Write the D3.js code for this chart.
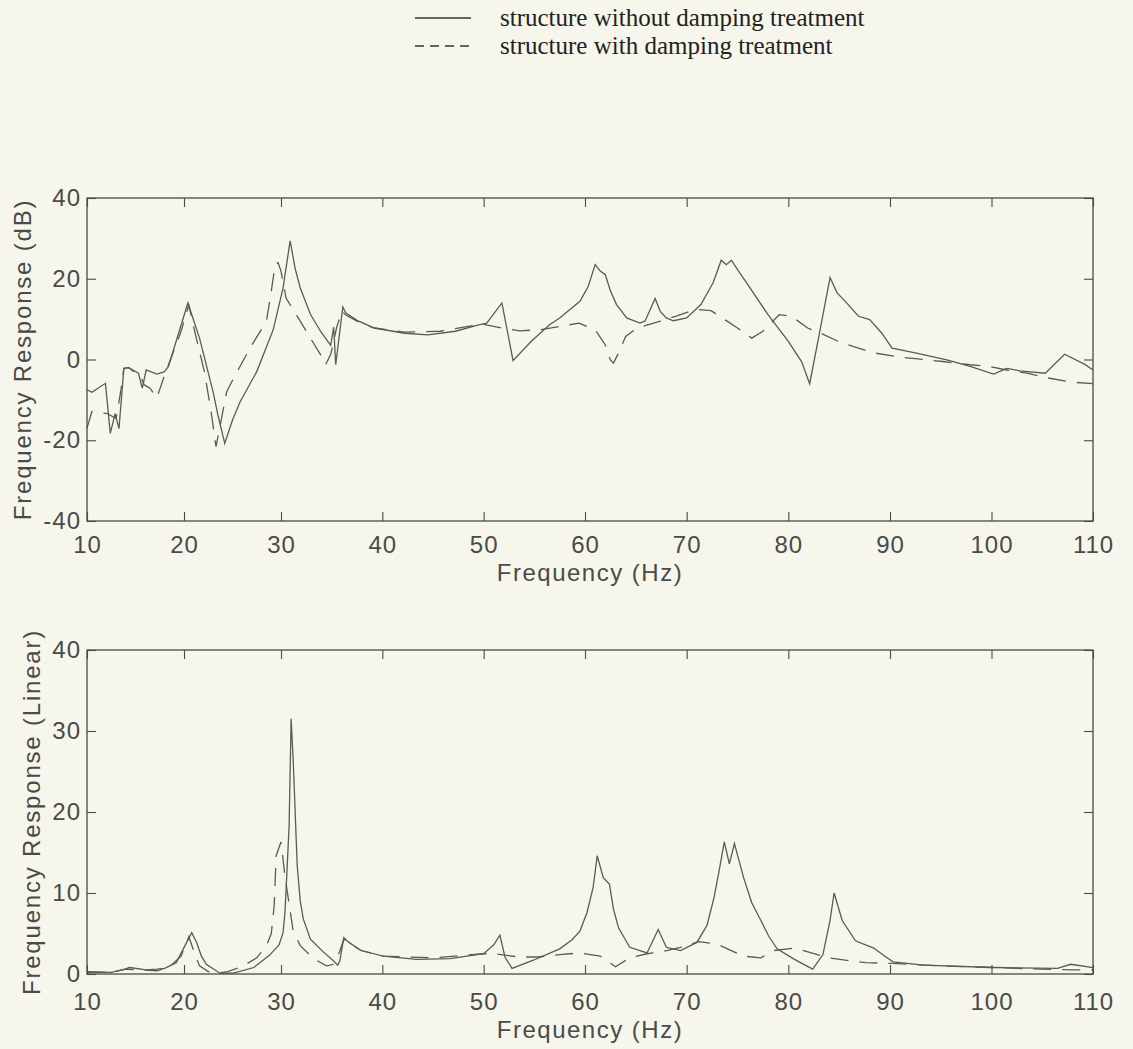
<!DOCTYPE html>
<html>
<head>
<meta charset="utf-8">
<script src="https://cdn.jsdelivr.net/npm/d3@7"></script>
<style>
  html, body { margin: 0; padding: 0; background: #f6f6ec; }
  svg { display: block; }
</style>
</head>
<body>
<svg id="chart" width="1133" height="1049"></svg>
<script>
// ---------------- data ----------------
const legendLabels = ["structure without damping treatment", "structure with damping treatment"];
const xTickValues = [10, 20, 30, 40, 50, 60, 70, 80, 90, 100, 110];
const dbTickValues = [-40, -20, 0, 20, 40];
const linTickValues = [0, 10, 20, 30, 40];
const xTitle = "Frequency (Hz)";
const dbTitle = "Frequency Response (dB)";
const linTitle = "Frequency Response (Linear)";

// top panel, dB, without damping (solid)
const dbSolid = [
  [10.0,-7.5],[10.5,-8.1],[11.9,-5.9],[12.4,-18.3],[12.9,-13.4],[13.3,-17.1],[13.8,-2.2],[14.3,-2.0],
  [15.3,-3.4],[15.7,-7.1],[16.1,-2.6],[17.2,-3.6],[18.0,-3.0],[18.4,-1.7],[20.4,14.0],[21.6,5.3],
  [23.0,-8.0],[23.5,-13.8],[24.2,-20.8],[25.0,-15.0],[25.8,-10.4],[27.5,-3.0],[29.2,7.4],[30.2,17.7],
  [30.9,29.4],[31.4,22.5],[31.9,17.7],[32.9,11.2],[33.9,7.0],[34.9,3.5],[35.2,8.0],[35.4,-1.3],
  [36.1,13.0],[36.4,11.5],[37.5,9.7],[39.2,7.8],[42.2,6.5],[44.5,6.1],[47.2,7.0],[49.5,8.6],
  [50.3,9.0],[51.8,14.0],[52.9,-0.3],[54.7,4.5],[56.5,8.6],[57.5,10.3],[59.5,14.4],[60.3,18.0],
  [61.0,23.5],[61.5,21.9],[62.0,21.0],[62.5,17.0],[63.1,13.6],[64.1,10.3],[65.4,9.0],[65.9,9.5],
  [66.9,15.1],[67.4,11.9],[68.0,10.3],[68.7,9.6],[70.0,10.3],[71.4,13.6],[72.6,19.0],[73.4,24.6],
  [73.9,23.5],[74.4,24.6],[75.2,21.5],[76.0,18.6],[78.0,11.1],[80.0,4.5],[81.3,-0.5],[82.1,-6.0],
  [83.1,7.0],[84.1,20.3],[84.8,16.5],[85.6,14.4],[86.9,10.7],[88.0,9.9],[89.2,6.5],[90.2,2.8],
  [92.6,1.6],[95.6,-0.1],[97.9,-1.7],[100.2,-3.6],[101.5,-2.2],[102.8,-2.8],[105.3,-3.4],[107.2,1.3],
  [109.2,-1.2],[110.0,-2.6]
];
// top panel, dB, with damping (dashed)
const dbDashed = [
  [10.0,-17.0],[10.5,-12.9],[12.1,-13.4],[13.0,-14.6],[13.5,-7.5],[13.8,-2.2],[14.3,-2.0],[15.6,-4.6],
  [15.9,-6.3],[16.5,-7.1],[17.2,-9.5],[17.9,-4.6],[18.4,-1.3],[19.7,7.0],[20.5,13.5],[21.1,7.0],
  [22.1,-3.0],[22.8,-13.0],[23.3,-21.6],[24.4,-8.0],[25.1,-4.7],[26.8,2.8],[28.5,9.5],[29.0,16.9],
  [29.4,23.6],[29.7,24.0],[30.0,21.9],[30.5,15.2],[31.9,9.5],[32.9,5.3],[33.9,1.2],[34.4,-1.3],
  [34.9,1.2],[35.5,8.0],[36.0,12.0],[36.4,11.0],[37.5,9.5],[39.2,7.8],[42.2,6.8],[45.7,7.0],
  [49.8,8.8],[51.8,7.8],[53.6,7.1],[55.6,7.4],[57.5,8.2],[59.4,9.0],[61.0,7.4],[62.0,3.6],
  [62.5,-0.1],[62.8,-0.9],[63.3,1.6],[64.0,5.7],[65.1,7.8],[67.4,9.5],[68.9,10.7],[70.9,12.4],
  [72.4,12.1],[75.0,7.8],[76.4,5.3],[77.5,7.0],[79.1,11.1],[80.3,10.7],[81.9,7.8],[83.2,6.5],
  [84.9,4.5],[86.9,2.8],[88.5,1.6],[91.3,0.5],[95.2,-0.5],[97.9,-1.3],[99.7,-1.7],[101.5,-2.6],
  [103.5,-3.4],[105.4,-4.5],[107.9,-5.6],[110.0,-6.0]
];
// bottom panel, linear, without damping (solid)
const linSolid = [
  [10.0,0.3],[12.5,0.2],[13.9,0.6],[14.4,0.8],[16.1,0.5],[17.2,0.6],[18.0,0.7],[19.2,1.4],
  [20.1,3.5],[20.8,5.1],[21.3,3.9],[21.8,2.2],[22.3,1.2],[23.7,0.1],[25.1,0.1],[27.2,0.8],
  [28.8,2.3],[29.8,3.6],[30.2,5.1],[30.4,7.7],[30.8,18.3],[31.0,31.5],[31.2,26.5],[31.6,13.4],
  [31.9,9.0],[32.2,6.8],[32.9,4.3],[34.2,2.7],[35.2,1.6],[35.6,1.1],[35.8,1.6],[36.2,4.5],
  [36.7,3.9],[37.9,2.9],[40.1,2.2],[43.4,1.8],[46.7,1.9],[50.0,2.5],[51.0,3.6],[51.6,4.8],
  [52.1,2.1],[52.8,0.7],[54.9,1.7],[57.5,3.1],[58.7,4.2],[59.5,5.3],[60.2,7.6],[60.8,10.7],
  [61.2,14.6],[61.8,11.9],[62.4,11.1],[62.8,8.0],[63.3,5.7],[64.4,3.3],[66.1,2.6],[67.2,5.5],
  [68.0,3.3],[69.4,2.9],[71.0,3.9],[72.0,6.0],[72.7,9.5],[73.2,12.8],[73.7,16.3],[74.2,13.6],
  [74.7,16.1],[75.6,11.9],[76.4,8.8],[77.3,6.6],[78.1,4.6],[78.9,3.1],[80.6,1.8],[82.4,0.6],
  [83.4,2.4],[84.1,6.6],[84.5,10.0],[85.3,6.6],[86.6,4.1],[88.4,3.2],[89.5,2.2],[90.3,1.5],
  [93.3,1.1],[100.2,0.8],[106.5,0.7],[107.8,1.2],[110.0,0.8]
];
// bottom panel, linear, with damping (dashed)
const linDashed = [
  [10.0,0.2],[12.5,0.2],[14.0,0.6],[15.5,0.5],[17.2,0.4],[18.4,0.8],[19.7,2.2],[20.5,4.6],
  [21.1,2.5],[21.6,1.0],[22.5,0.3],[23.3,0.1],[24.5,0.3],[26.0,0.9],[27.5,2.0],[28.5,3.5],
  [29.0,5.0],[29.3,8.5],[29.5,14.6],[30.0,16.3],[30.2,14.2],[30.4,12.0],[31.2,5.3],[31.9,3.5],
  [33.2,1.9],[34.5,1.0],[35.2,1.2],[35.8,2.8],[36.2,4.3],[36.7,3.8],[37.9,2.9],[40.0,2.2],
  [45.0,2.0],[50.0,2.5],[51.0,2.5],[53.5,2.1],[55.3,2.1],[57.5,2.4],[59.5,2.6],[61.5,2.2],
  [63.0,0.9],[64.4,2.0],[66.1,2.5],[67.7,2.8],[69.4,3.3],[71.2,4.0],[73.0,3.7],[75.6,2.2],
  [77.3,2.0],[78.6,2.9],[80.6,3.2],[83.9,2.0],[85.6,1.7],[87.6,1.4],[90.3,1.3],[95.0,1.0],
  [100.0,0.8],[105.0,0.6],[108.0,0.5],[110.0,0.5]
];

// ---------------- layout ----------------
const svg = d3.select("#chart");
const ink = "#4a4a48";
const lineInk = "#5a5a58";
const sansFont = "'Liberation Sans', Arial, Helvetica, sans-serif";
const serifFont = "'Liberation Serif', 'Times New Roman', serif";

const x = d3.scaleLinear()
  .domain([10, 30, 60, 90, 110])
  .range([87, 281, 585, 890, 1093]);

const panels = [
  { y: d3.scaleLinear().domain([-40, 40]).range([521, 198]), ticks: dbTickValues,
    title: dbTitle, titleX: 31, labelPad: 15, titleDy: 60, solid: dbSolid, dashed: dbDashed },
  { y: d3.scaleLinear().domain([0, 40]).range([974, 650]), ticks: linTickValues,
    title: linTitle, titleX: 40, labelPad: 19, titleDy: 64, solid: linSolid, dashed: linDashed }
];

const fmt = d => String(d);
const tickLen = 9;

panels.forEach(p => {
  const g = svg.append("g");
  const [y0, y1] = p.y.range();
  const x0 = x.range()[0], x1 = x.range()[x.range().length - 1];

  // curves
  const line = d3.line().x(d => x(d[0])).y(d => p.y(d[1]));
  g.append("path").datum(p.dashed).attr("d", line)
    .attr("fill", "none").attr("stroke", lineInk).attr("stroke-width", 1.3)
    .attr("stroke-dasharray", "18,11");
  g.append("path").datum(p.solid).attr("d", line)
    .attr("fill", "none").attr("stroke", lineInk).attr("stroke-width", 1.3);

  // axes (inward ticks all around)
  const styleAxis = sel => {
    sel.select(".domain").remove();
    sel.selectAll(".tick line").attr("stroke", ink).attr("stroke-width", 1.1);
    sel.selectAll(".tick text").attr("fill", ink)
      .style("font-family", sansFont).style("font-size", "24px").style("letter-spacing", "1px");
  };
  g.append("g").attr("transform", `translate(0,${y0})`)
    .call(d3.axisBottom(x).tickValues(xTickValues).tickFormat(fmt).tickSize(-tickLen).tickPadding(p.labelPad))
    .call(styleAxis);
  g.append("g").attr("transform", `translate(0,${y1})`)
    .call(d3.axisTop(x).tickValues(xTickValues).tickFormat("").tickSize(-tickLen))
    .call(styleAxis);
  g.append("g").attr("transform", `translate(${x0},0)`)
    .call(d3.axisLeft(p.y).tickValues(p.ticks).tickFormat(fmt).tickSize(-tickLen).tickPadding(6))
    .call(styleAxis);
  g.append("g").attr("transform", `translate(${x1},0)`)
    .call(d3.axisRight(p.y).tickValues(p.ticks).tickFormat("").tickSize(-tickLen))
    .call(styleAxis);

  // frame
  g.append("rect").attr("x", x0).attr("y", y1).attr("width", x1 - x0).attr("height", y0 - y1)
    .attr("fill", "none").attr("stroke", ink).attr("stroke-width", 1.3);

  // titles
  g.append("text").attr("x", (x0 + x1) / 2).attr("y", y0 + p.titleDy)
    .attr("text-anchor", "middle").attr("fill", ink)
    .style("font-family", sansFont).style("font-size", "24px").style("letter-spacing", "1.5px")
    .text(xTitle);
  g.append("text")
    .attr("transform", `translate(${p.titleX},${(y0 + y1) / 2}) rotate(-90)`)
    .attr("text-anchor", "middle").attr("fill", ink)
    .style("font-family", sansFont).style("font-size", "24px").style("letter-spacing", "1.8px")
    .text(p.title);
});

// legend
const legend = svg.append("g");
const legendStyles = ["none", "9,6"];
legendLabels.forEach((label, i) => {
  const yy = 18 + i * 28;
  legend.append("line").attr("x1", 415).attr("x2", 471).attr("y1", yy).attr("y2", yy)
    .attr("stroke", "#333").attr("stroke-width", 1.3)
    .attr("stroke-dasharray", legendStyles[i]);
  legend.append("text").attr("x", 500).attr("y", yy + 8)
    .attr("fill", "#222")
    .style("font-family", serifFont).style("font-size", "25px")
    .text(label);
});
</script>
</body>
</html>
